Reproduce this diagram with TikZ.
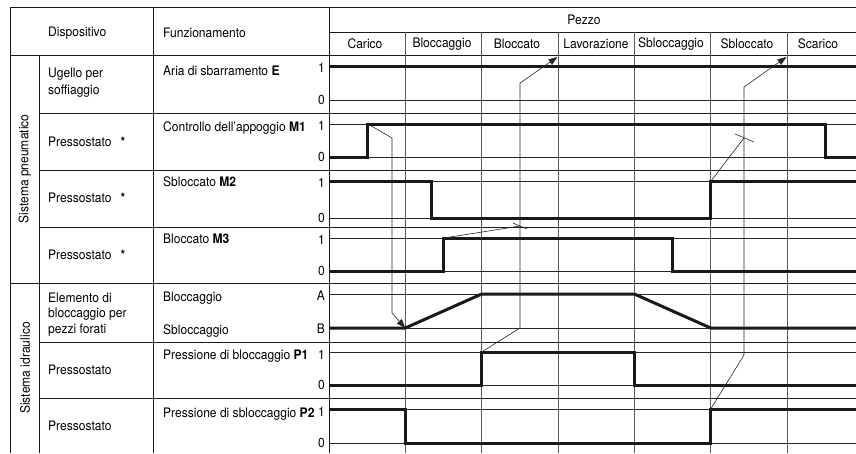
\documentclass[tikz,border=0pt]{standalone}
\usepackage{fontspec}
\setmainfont{TeX Gyre Heros}[FakeStretch=0.92]
\usetikzlibrary{arrows.meta}
\begin{document}
\begin{tikzpicture}[x=1pt,y=-1pt,
  tline/.style={line width=0.75pt, black!90},
  cline/.style={line width=0.75pt, black!65},
  lvl/.style={line width=0.75pt, black!85},
  sig/.style={line width=3pt, black!90, line join=miter},
  conn/.style={line width=0.6pt, black!85},
  tipc/.style={-{Triangle[length=9pt,width=6.5pt]}},
  txt/.style={font=\fontsize{13.1}{16.5}\selectfont, inner sep=0pt},
  lbl/.style={txt, anchor=base west, align=left},
  num/.style={txt, anchor=east},
  hdr/.style={txt, anchor=center}]
\clip (0,0) rectangle (856,453);
\fill[white] (0,0) rectangle (856,453);
% ---- table frame ----
\draw[tline] (10,453) -- (10,7) -- (856,7);
\draw[tline] (39,55) -- (39,453);
\draw[tline] (153,7) -- (153,453);
\draw[tline] (329,7) -- (329,453);
\draw[tline] (329,32) -- (856,32);
\draw[tline] (10,55) -- (856,55);
\foreach \y in {113,170,227,342,398} \draw[tline] (39,\y) -- (856,\y);
\draw[tline] (10,283) -- (856,283);
\foreach \x in {405.3,481.7,558,634.3,710.7,787} \draw[cline] (\x,32) -- (\x,453);
\foreach \y in {66,100,124,157,181,218,238,271,294,328,352,385,409,443} \draw[lvl] (329,\y) -- (856,\y);
% ---- header ----
\node[lbl, anchor=west] (hdisp) at (48,33) {Dispositivo};
\node[lbl, anchor=west] (hfunz) at (163,33) {Funzionamento};
\node[hdr] (hpezzo) at (584,20) {Pezzo};
\node[hdr] (c1) at (365,44) {Carico};
\node[hdr] (c2) at (442,44) {Bloccaggio};
\node[hdr] (c3) at (517,44) {Bloccato};
\node[hdr] (c4) at (596,44) {Lavorazione};
\node[hdr] (c5) at (671,44) {Sbloccaggio};
\node[hdr] (c6) at (747,44) {Sbloccato};
\node[hdr] (c7) at (818,44) {Scarico};
% ---- group labels ----
\node[hdr, rotate=90] (gpn) at (25,169) {Sistema pneumatico};
\node[hdr, rotate=90] (gid) at (25,368) {Sistema idraulico};
% ---- device labels ----
\node[lbl] (d1) at (48,94) {Ugello per\\soffiaggio};
\node[lbl, anchor=west] (d2) at (48,142) {Pressostato\hspace{9pt}\textbf{*}};
\node[lbl, anchor=west] (d3) at (48,198) {Pressostato\hspace{9pt}\textbf{*}};
\node[lbl, anchor=west] (d4) at (48,255) {Pressostato\hspace{9pt}\textbf{*}};
\node[lbl, font=\fontsize{13.1}{15.5}\selectfont] (d5) at (48,333) {Elemento di\\bloccaggio per\\pezzi forati};
\node[lbl, anchor=west] (d6) at (48,370) {Pressostato};
\node[lbl, anchor=west] (d7) at (48,426) {Pressostato};
% ---- function labels ----
\node[lbl] (f1) at (163,75) {Aria di sbarramento \textbf{E}};
\node[lbl] (f2) at (163,131) {Controllo dell’appoggio \textbf{M1}};
\node[lbl] (f3) at (163,186) {Sbloccato \textbf{M2}};
\node[lbl] (f4) at (163,243) {Bloccato \textbf{M3}};
\node[lbl] (f5) at (163,301) {Bloccaggio};
\node[lbl] (f6) at (163,334) {Sbloccaggio};
\node[lbl] (f7) at (163,359) {Pressione di bloccaggio \textbf{P1}};
\node[lbl] (f8) at (163,417) {Pressione di sbloccaggio \textbf{P2}};
% ---- level labels ----
\node[num] (n1a) at (325,68) {1};  \node[num] (n1b) at (325,100) {0};
\node[num] (n2a) at (325,126) {1}; \node[num] (n2b) at (325,157) {0};
\node[num] (n3a) at (325,183) {1}; \node[num] (n3b) at (325,218) {0};
\node[num] (n4a) at (325,240) {1}; \node[num] (n4b) at (325,271) {0};
\node[num] (n5a) at (325,296) {A}; \node[num] (n5b) at (325,329) {B};
\node[num] (n6a) at (325,355) {1}; \node[num] (n6b) at (325,385) {0};
\node[num] (n7a) at (325,412) {1}; \node[num] (n7b) at (325,443) {0};
% ---- signals ----
\draw[sig] (329,66) -- (856,66);
\draw[sig] (329,157) -- (367.2,157) -- (367.2,124) -- (825.2,124) -- (825.2,157) -- (856,157);
\draw[sig] (329,181) -- (431,181) -- (431,218) -- (710.7,218) -- (710.7,181) -- (856,181);
\draw[sig] (329,271) -- (443.5,271) -- (443.5,238) -- (672.5,238) -- (672.5,271) -- (856,271);
\draw[sig] (329,328) -- (405.3,328) -- (481.7,294) -- (634.3,294) -- (710.7,328) -- (856,328);
\draw[sig] (329,385) -- (481.7,385) -- (481.7,352) -- (634.3,352) -- (634.3,385) -- (856,385);
\draw[sig] (329,409) -- (405.3,409) -- (405.3,443) -- (710.7,443) -- (710.7,409) -- (856,409);
% ---- connector points ----
\coordinate (m1r) at (368,124);
\coordinate (k1a) at (392,138);
\coordinate (k1b) at (392,313);
\coordinate (clB) at (405.3,328);
\coordinate (p1r) at (481.7,352);
\coordinate (k2a) at (520,328);
\coordinate (k2b) at (520,83);
\coordinate (eA) at (557.5,57);
\coordinate (p2r) at (710.7,409);
\coordinate (k3a) at (744,355);
\coordinate (k3b) at (744,87);
\coordinate (eB) at (786.5,57);
\coordinate (m2r) at (711,181);
\coordinate (j2) at (744,138);
\coordinate (t2a) at (735,134);
\coordinate (t2b) at (754,142);
\coordinate (m3r) at (444,238);
\coordinate (j3) at (520,226);
\coordinate (t3a) at (513,223);
\coordinate (t3b) at (527,229);
% ---- connectors ----
\draw[conn, tipc] (m1r) -- (k1a) -- (k1b) -- (clB);
\draw[conn, tipc] (p1r) -- (k2a) -- (k2b) -- (eA);
\draw[conn, tipc] (p2r) -- (k3a) -- (k3b) -- (eB);
\draw[conn] (m2r) -- (j2);
\draw[conn] (t2a) -- (t2b);
\draw[conn] (m3r) -- (j3);
\draw[conn] (t3a) -- (t3b);
\end{tikzpicture}
\end{document}
